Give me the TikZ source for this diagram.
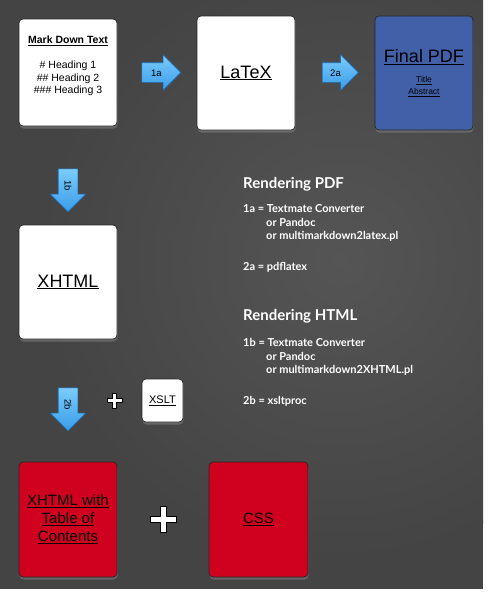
\documentclass[tikz,border=0pt]{standalone}
\usepackage{fontspec}
\setmainfont{Liberation Sans}
\newfontfamily\notefont{Lato}
\usetikzlibrary{shapes.arrows,shadows}

\definecolor{board}{HTML}{444444}
\definecolor{boardlight}{HTML}{555555}
\definecolor{pdfblue}{HTML}{4160A8}
\definecolor{tocred}{HTML}{D0001F}
\definecolor{arrowtop}{HTML}{7ACCFA}
\definecolor{arrowbottom}{HTML}{3A9CEA}
\definecolor{arrowline}{HTML}{1C6CB4}

\begin{document}
\begin{tikzpicture}[
  x=1pt, y=-1pt,
  line join=round,
  every node/.style={inner sep=0pt},
  card/.style={draw=black!85, line width=0.7pt, rounded corners=4pt, fill=white, align=center,
    drop shadow={shadow xshift=0.5pt, shadow yshift=-2.5pt, opacity=0.55}},
  bigcard/.style={card, minimum width=98pt, minimum height=114pt},
  blockarrow/.style={single arrow, single arrow head extend=8pt, draw=arrowline, line width=0.6pt,
    top color=arrowtop, bottom color=arrowbottom, font=\fontsize{9.5}{9.5}\selectfont,
    text height=7pt, text depth=0pt, inner ysep=6pt, inner xsep=2pt},
  plussign/.style={fill=white, draw=black, line width=0.8pt},
  heading/.style={font=\notefont\bfseries\fontsize{15}{18}\selectfont, text=white, anchor=base west},
  notes/.style={font=\notefont\bfseries\fontsize{11}{13.5}\selectfont, text=white, align=left, anchor=north west},
]
\useasboundingbox (0,0) rectangle (492,598);

% board
\fill[board] (0,0) rectangle (483,589);
\begin{scope}
  \clip (0,0) rectangle (483,589);
  \shade[inner color=boardlight, outer color=board] (340,260) circle (300);
\end{scope}

% top row
\node[card, minimum width=98pt, minimum height=107pt] (markdown) at (68,72.5) {};
\node[align=center, font=\fontsize{10.5}{12.5}\selectfont] (mdtext) at (68,66)
  {\textbf{\underline{Mark Down Text}}\\[12.5pt]
   \# Heading 1\\ \#\# Heading 2\\ \#\#\# Heading 3};
\node[bigcard, font=\fontsize{18}{20}\selectfont] (latex) at (246,73) {\underline{LaTeX}};
\node[bigcard, fill=pdfblue] (pdf) at (424,73)
  {{\fontsize{18}{20}\selectfont\underline{Final PDF}}\\[8pt]
   {\fontsize{8.5}{13}\selectfont\underline{Title}}\\
   {\fontsize{8.5}{13}\selectfont\underline{Abstract}}};
\node[blockarrow, minimum height=39pt] (step1a) at (156.5,72.5) {1a};
\node[blockarrow, minimum height=36pt] (step2a) at (335.5,72.5) {2a};

% left column
\node[blockarrow, minimum height=43pt, rotate=-90] (step1b) at (68,185.5) {1b};
\node[bigcard, font=\fontsize{18}{20}\selectfont] (xhtml) at (68,282) {\underline{XHTML}};
\node[blockarrow, minimum height=43pt, rotate=-90] (step2b) at (68,404.5) {2b};
\draw[plussign] (114.5,400.5) ++(-7.5,-2) -- ++(5.5,0) -- ++(0,-5.5) -- ++(4,0) -- ++(0,5.5)
  -- ++(5.5,0) -- ++(0,4) -- ++(-5.5,0) -- ++(0,5.5) -- ++(-4,0) -- ++(0,-5.5) -- ++(-5.5,0) -- cycle;
\node[card, minimum width=41pt, minimum height=43pt, font=\fontsize{11}{12}\selectfont] (xslt) at (162.5,400.5) {\underline{XSLT}};

% bottom row
\node[bigcard, fill=tocred, minimum height=115pt, font=\fontsize{15}{18}\selectfont] (toc) at (68,519.5)
  {\underline{XHTML with}\\ \underline{Table of}\\ \underline{Contents}};
\draw[plussign] (163,519) ++(-13,-3) -- ++(10,0) -- ++(0,-10) -- ++(6,0) -- ++(0,10)
  -- ++(10,0) -- ++(0,6) -- ++(-10,0) -- ++(0,10) -- ++(-6,0) -- ++(0,-10) -- ++(-10,0) -- cycle;
\node[bigcard, fill=tocred, minimum width=99pt, minimum height=115pt, font=\fontsize{15}{18}\selectfont] (css) at (258.5,519.5) {\underline{CSS}};

% notes
\node[heading] (pdfhead) at (243,188.5) {Rendering PDF};
\node[notes] (pdfnotes) at (243,204.5)
  {1a = Textmate Converter\\
   \hspace*{23pt}or Pandoc\\
   \hspace*{23pt}or multimarkdown2latex.pl\\[17pt]
   2a = pdflatex};
\node[heading] (htmlhead) at (243,320.5) {Rendering HTML};
\node[notes] (htmlnotes) at (243,338.5)
  {1b = Textmate Converter\\
   \hspace*{23pt}or Pandoc\\
   \hspace*{23pt}or multimarkdown2XHTML.pl\\[17pt]
   2b = xsltproc};
\end{tikzpicture}
\end{document}
